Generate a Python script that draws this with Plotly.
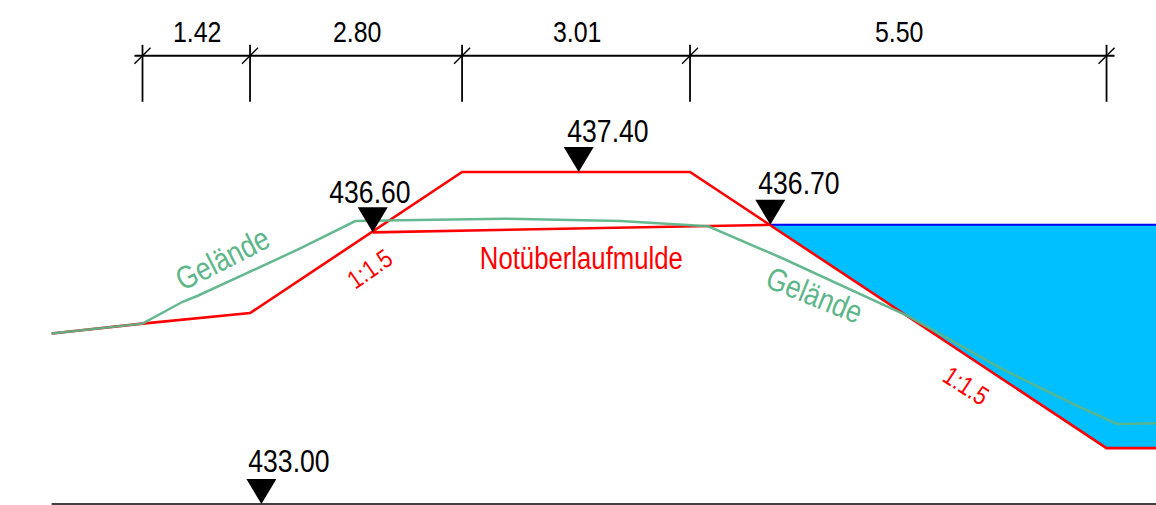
import plotly.graph_objects as go

# Dimension chain (m)
dim_values = [1.42, 2.80, 3.01, 5.50]
dim_labels = ["1.42", "2.80", "3.01", "5.50"]
dim_level = 438.94

# Terrain (Gelände)
terrain_x = [-1.20, 0.00, 0.53, 0.73, 2.09, 2.81, 3.41, 4.79, 6.31, 7.47, 8.42, 10.11, 11.33, 12.32, 12.87, 13.39]
terrain_y = [435.26, 435.39, 435.68, 435.76, 436.39, 436.75, 436.76, 436.78, 436.75, 436.68, 436.27, 435.49, 434.80, 434.31, 434.06, 434.07]

# Dam profile
dam_x = [-1.20, 0.00, 1.42, 4.22, 7.23, 12.73, 13.39]
dam_y = [435.26, 435.39, 435.53, 437.40, 437.40, 433.74, 433.74]

# Overflow trough
trough_x = [3.04, 8.29]
trough_y = [436.60, 436.70]

# Water body
water_x = [8.29, 13.39, 13.39, 12.73, 8.29]
water_y = [436.70, 436.70, 433.74, 433.74, 436.70]

# Level markers
level_x = [5.76, 3.04, 8.29, 1.57]
level_y = [437.40, 436.60, 436.70, 433.00]
level_labels = ["437.40", "436.60", "436.70", "433.00"]
label_x = [6.15, 3.00, 8.67, 1.94]
label_rise = [41, 40, 42, 43]

base_x = [-1.20, 13.39]
base_y = [433.00, 433.00]

FONT = "Liberation Sans"
RED = "#FF0000"
GREEN = "#5DB58A"
PXM_X = 75.73
PXM_Y = 75.45

fig = go.Figure()

# water
fig.add_trace(go.Scatter(x=water_x, y=water_y, mode="lines", fill="toself",
                         fillcolor="#00BFFF", line=dict(width=0), hoverinfo="skip"))
fig.add_trace(go.Scatter(x=water_x[:2], y=water_y[:2], mode="lines",
                         line=dict(color="#0000FF", width=2)))
# base line
fig.add_trace(go.Scatter(x=base_x, y=base_y, mode="lines", line=dict(color="#000000", width=1.3)))
# profile lines
fig.add_trace(go.Scatter(x=dam_x, y=dam_y, mode="lines", line=dict(color=RED, width=2.6)))
fig.add_trace(go.Scatter(x=trough_x, y=trough_y, mode="lines", line=dict(color=RED, width=2.6)))
fig.add_trace(go.Scatter(x=terrain_x, y=terrain_y, mode="lines",
                         line=dict(color=GREEN, width=2.5), opacity=0.95))

# dimension chain
stations = [0.0]
for d in dim_values:
    stations.append(round(stations[-1] + d, 2))
tick = 8 / PXM_X
fig.add_trace(go.Scatter(x=[stations[0] - tick, stations[-1] + tick], y=[dim_level, dim_level],
                         mode="lines", line=dict(color="#000000", width=2)))
for s in stations:
    fig.add_trace(go.Scatter(x=[s, s], y=[dim_level + 11 / PXM_Y, dim_level - 46 / PXM_Y], mode="lines",
                             line=dict(color="#000000", width=1.8)))
    fig.add_trace(go.Scatter(x=[s - tick, s + tick], y=[dim_level - 8 / PXM_Y, dim_level + 8 / PXM_Y],
                             mode="lines", line=dict(color="#000000", width=1.4)))

annotations = []
def text(x, y, s, color="#000000", size=27, angle=0):
    annotations.append(dict(x=x, y=y, text=s, showarrow=False, xanchor="center", yanchor="middle",
                            textangle=angle, font=dict(family=FONT, size=size, color=color)))

for i, d in enumerate(dim_labels):
    text((stations[i] + stations[i + 1]) / 2 + 0.01, dim_level + 24 / PXM_Y, d, size=30)

# level triangles and labels
for x, y, lab, lx, rise in zip(level_x, level_y, level_labels, label_x, label_rise):
    hw = 15 / PXM_X
    h = 25 / PXM_Y
    fig.add_trace(go.Scatter(x=[x - hw, x + hw, x, x - hw], y=[y + h, y + h, y, y + h], mode="lines",
                             fill="toself", fillcolor="#000000", line=dict(width=0)))
    text(lx, y + rise / PXM_Y, lab, size=32)

text(1.05, 436.25, "Gelände", GREEN, 32, -27)
text(8.87, 435.77, "Gelände", GREEN, 32, 22)
text(3.00, 436.11, "1:1.5", RED, 26, -35)
text(10.88, 434.56, "1:1.5", RED, 26, 33)
text(5.80, 436.26, "Notüberlaufmulde", RED, 31, 0)

axis = dict(visible=False, fixedrange=True)
fig.update_layout(
    width=1156, height=505, margin=dict(l=0, r=0, t=0, b=0),
    paper_bgcolor="#FFFFFF", plot_bgcolor="#FFFFFF", showlegend=False,
    xaxis=dict(range=[-142.5 / PXM_X, (1156 - 142.5) / PXM_X], **axis),
    yaxis=dict(range=[437.40 - (505 - 172) / PXM_Y, 437.40 + 172 / PXM_Y], **axis),
    annotations=annotations,
)
squeeze_js = """
document.body.style.margin='0';
document.documentElement.style.overflow='hidden';
function squeeze(){
  document.querySelectorAll('.annotation-text').forEach(function(t){
    if(t.getAttribute('textLength')) return;
    var L=t.getComputedTextLength();
    if(L>0){ t.setAttribute('lengthAdjust','spacingAndGlyphs'); t.setAttribute('textLength',L*0.83); }
  });
}
squeeze();
setTimeout(squeeze,0);
var gd=document.getElementById('{plot_id}');
if(gd.on){ gd.on('plotly_afterplot',squeeze); }
"""
fig.write_html("out.html", config=dict(displayModeBar=False), post_script=squeeze_js)
